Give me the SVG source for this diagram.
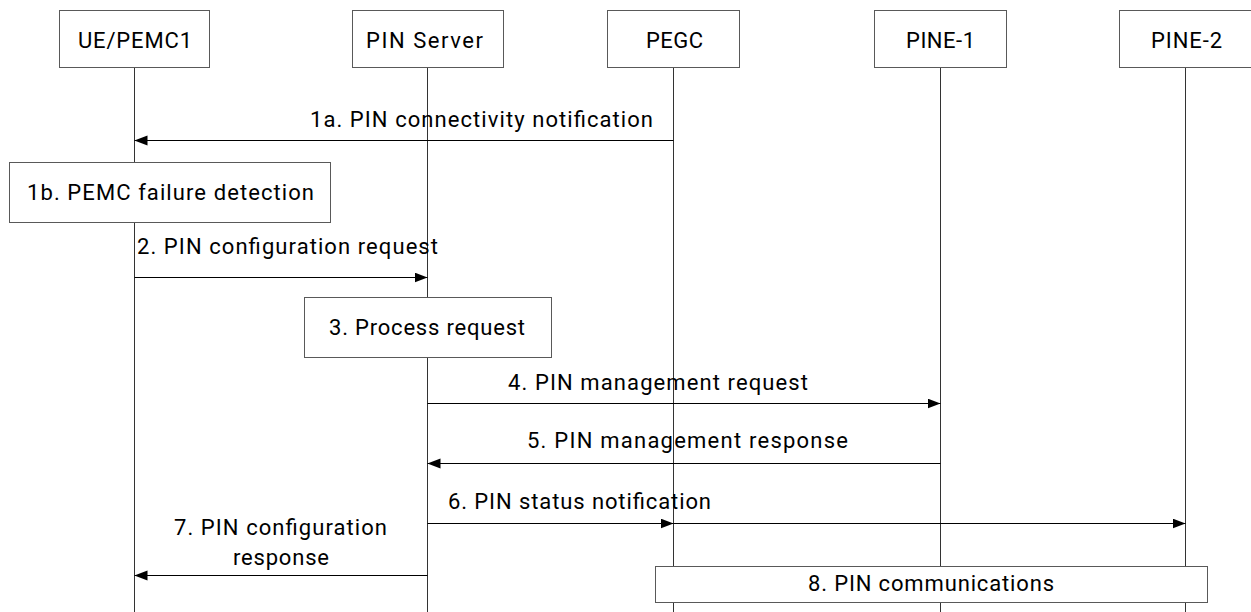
<svg xmlns="http://www.w3.org/2000/svg" width="1251" height="612" viewBox="0 0 1251 612">
<style>
.box{fill:#fff;stroke:#595959;stroke-width:1}
.life{stroke:#333;stroke-width:1;fill:none}
.msg{stroke:#000;stroke-width:1;fill:none;marker-end:url(#ah)}
text{font-family:Roboto,"Liberation Sans",Arial,sans-serif;font-size:22px;fill:#000}
.c{text-anchor:middle}
</style>
<defs>
<marker id="ah" markerUnits="userSpaceOnUse" markerWidth="13" markerHeight="11" refX="13" refY="5" orient="auto">
<path d="M0,0 L13,5 L0,10 z" fill="#000"/>
</marker>
</defs>
<rect width="1251" height="612" fill="#fff"/>
<g id="lifelines">
<line class="life" x1="134.5" y1="67" x2="134.5" y2="612"/>
<line class="life" x1="427.5" y1="67" x2="427.5" y2="612"/>
<line class="life" x1="673.5" y1="67" x2="673.5" y2="612"/>
<line class="life" x1="940.5" y1="67" x2="940.5" y2="612"/>
<line class="life" x1="1185.5" y1="67" x2="1185.5" y2="612"/>
</g>
<g id="ue"><rect class="box" x="59.5" y="10.5" width="150" height="57"/><text x="135" y="48" class="c" textLength="114" lengthAdjust="spacing">UE/PEMC1</text></g>
<g id="pinserver"><rect class="box" x="352.5" y="10.5" width="151" height="57"/><text x="424.5" y="48" class="c" textLength="117" lengthAdjust="spacing">PIN Server</text></g>
<g id="pegc"><rect class="box" x="607.5" y="10.5" width="132" height="57"/><text x="674.5" y="48" class="c" textLength="57" lengthAdjust="spacing">PEGC</text></g>
<g id="pine1"><rect class="box" x="874.5" y="10.5" width="132" height="57"/><text x="940.5" y="48" class="c" textLength="69" lengthAdjust="spacing">PINE-1</text></g>
<g id="pine2"><rect class="box" x="1119.5" y="10.5" width="134" height="57"/><text x="1186.5" y="48" class="c" textLength="71" lengthAdjust="spacing">PINE-2</text></g>
<g id="connectors">
<line class="msg" x1="673.5" y1="140.5" x2="134.5" y2="140.5"/>
<text x="310" y="127" textLength="343" lengthAdjust="spacing">1a. PIN connectivity notification</text>
<line class="msg" x1="134.5" y1="277.5" x2="427.5" y2="277.5"/>
<text x="137" y="254" textLength="301" lengthAdjust="spacing">2. PIN configuration request</text>
<line class="msg" x1="427.5" y1="403.5" x2="940.5" y2="403.5"/>
<text x="508" y="390" textLength="300" lengthAdjust="spacing">4. PIN management request</text>
<line class="msg" x1="940.5" y1="463.5" x2="427.5" y2="463.5"/>
<text x="527" y="448" textLength="321" lengthAdjust="spacing">5. PIN management response</text>
<line class="msg" x1="427.5" y1="523.5" x2="673.5" y2="523.5"/>
<line class="msg" x1="673.5" y1="523.5" x2="1185.5" y2="523.5"/>
<text x="448" y="509" textLength="263" lengthAdjust="spacing">6. PIN status notification</text>
<line class="msg" x1="427.5" y1="575.5" x2="134.5" y2="575.5"/>
<text x="174" y="535" textLength="213" lengthAdjust="spacing">7. PIN configuration</text>
<text x="233" y="565" textLength="96" lengthAdjust="spacing">response</text>
</g>
<g id="step1b"><rect class="box" x="9.5" y="162.5" width="321" height="60"/><text x="27" y="200" textLength="287" lengthAdjust="spacing">1b. PEMC failure detection</text></g>
<g id="step3"><rect class="box" x="304.5" y="297.5" width="247" height="60"/><text x="329" y="335" textLength="196" lengthAdjust="spacing">3. Process request</text></g>
<g id="step8"><rect class="box" x="655.5" y="566.5" width="552" height="36"/><text x="808" y="591" textLength="246" lengthAdjust="spacing">8. PIN communications</text></g>
</svg>
